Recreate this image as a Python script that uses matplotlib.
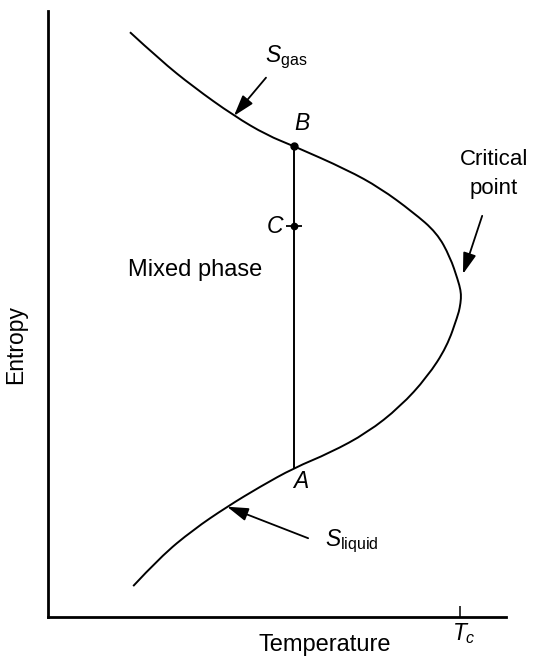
import matplotlib
matplotlib.use('Agg')
import matplotlib.pyplot as plt
from matplotlib.path import Path
from matplotlib.patches import PathPatch

plt.rcParams['font.family'] = ['Liberation Sans', 'DejaVu Sans']
plt.rcParams['mathtext.fontset'] = 'custom'
plt.rcParams['mathtext.rm'] = 'Liberation Sans'
plt.rcParams['mathtext.it'] = 'Liberation Sans:italic'

# coexistence curve, read top (gas branch) to bottom (liquid branch)
curve_T = [17.9, 24.5, 31.7, 40.6, 47.8, 53.7, 65.3, 72.5, 79.7, 84.9, 87.8,
           89.5, 90.1, 90.2, 89.9, 89.5, 87.1, 82.8, 76.9, 69.7, 61.6, 53.7,
           46.3, 39.1, 31.7, 24.5, 18.6]
curve_S = [96.5, 91.9, 87.5, 82.7, 79.5, 77.7, 73.8, 70.8, 66.8, 63.4, 59.4,
           55.6, 53.9, 52.6, 51.0, 49.8, 44.6, 39.6, 34.7, 30.4, 27.1, 24.6,
           21.5, 18.2, 14.4, 9.9, 5.1]

T_c = 90.0
T_line = 53.7          # tie line A-B
S_A = 24.6
S_B = 77.7
S_C = 64.5

fs = 16.5


def smooth_path(xs, ys):
  # quadratic bezier through midpoints, read points used as controls
  pts = list(zip(xs, ys))
  verts = [pts[0]]
  codes = [Path.MOVETO]
  n = len(pts)
  for i in range(1, n - 1):
    if i == n - 2:
      end = pts[n - 1]
    else:
      end = ((pts[i][0] + pts[i + 1][0]) / 2, (pts[i][1] + pts[i + 1][1]) / 2)
    verts += [pts[i], end]
    codes += [Path.CURVE3, Path.CURVE3]
  return Path(verts, codes)


fig = plt.figure(figsize=(5.33, 6.56), dpi=100)
ax = fig.add_axes([48/533, 39/656, 458/533, 606/656])
ax.set_xlim(0, 100)
ax.set_ylim(0, 100)
for s in ['top', 'right']:
  ax.spines[s].set_visible(False)
for s in ['left', 'bottom']:
  ax.spines[s].set_linewidth(2)

ax.set_yticks([])
ax.set_xticks([T_c])
ax.set_xticklabels([''])
ax.tick_params(axis='x', direction='in', length=8, width=1.1)

ax.add_patch(PathPatch(smooth_path(curve_T, curve_S), facecolor='none',
                       edgecolor='k', lw=1.4))

# tie line with points B and C
ax.plot([T_line, T_line], [S_A, S_B], color='k', lw=1.4)
ax.plot([T_line], [S_B], 'o', color='k', ms=5)
ax.plot([T_line], [S_C], 'o', color='k', ms=4.5)
ax.plot([T_line], [S_C], marker='_', color='k', ms=12, mew=1.3)

ax.text(55.5, 81.4, 'B', fontsize=fs, style='italic', ha='center', va='center')
ax.text(51.3, 64.5, 'C', fontsize=fs, style='italic', ha='right', va='center')
ax.text(55.2, 22.3, 'A', fontsize=fs, style='italic', ha='center', va='center')
ax.text(32.1, 57.3, 'Mixed phase', fontsize=17, ha='center', va='center')

arrow = dict(arrowstyle='-|>,head_length=0.8,head_width=0.25', mutation_scale=16,
             lw=1.3, color='k', shrinkA=0, shrinkB=0)
ax.annotate('', xy=(40.6, 82.7), xytext=(47.6, 89.0), arrowprops=arrow)
ax.text(47.4, 91.6, r'$S_{\mathrm{gas}}$', fontsize=fs, ha='left', va='baseline')

ax.annotate('', xy=(39.1, 18.2), xytext=(56.8, 13.0), arrowprops=arrow)
ax.text(60.5, 11.7, r'$S_{\mathrm{liquid}}$', fontsize=fs, ha='left', va='baseline')

ax.annotate('', xy=(90.6, 56.6), xytext=(94.8, 66.2), arrowprops=arrow)
ax.text(97.4, 73.1, 'Critical\npoint', fontsize=16, ha='center', va='center',
        multialignment='center', linespacing=1.45)

trans = ax.get_xaxis_transform()
ax.text(88.2, -0.038, r'$T_c$', fontsize=fs, ha='left', va='baseline', transform=trans)
ax.text(0.605, -0.046, 'Temperature', fontsize=17, ha='center', va='center',
        transform=ax.transAxes)
ax.text(-0.07, 0.449, 'Entropy', fontsize=fs, ha='center', va='center',
        rotation=90, transform=ax.transAxes)

fig.savefig('out.png', dpi=100)
